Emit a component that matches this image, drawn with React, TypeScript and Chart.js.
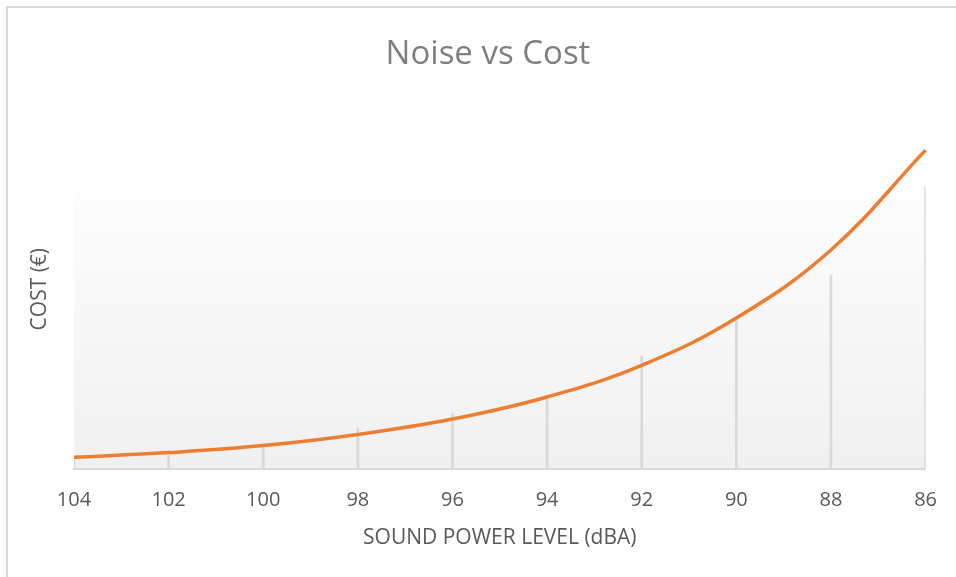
import React, { useEffect, useRef } from "react";
import { Chart, registerables } from "chart.js";

Chart.register(...registerables);

const soundLevels: string[] = ["104", "102", "100", "98", "96", "94", "92", "90", "88", "86"];
const costCurve: number[] = [3.7, 5.2, 7.4, 10.9, 15.8, 22.8, 32.8, 47.8, 69.3, 100.9];
const costBars: number[] = [3.8, 4.4, 7.0, 13.0, 17.7, 22.2, 35.8, 47.2, 61.4, 89.2];

const FONT = "'Open Sans', 'Liberation Sans', sans-serif";

const plotGradient = {
  id: "plotGradient",
  beforeDraw(chart: any) {
    const { ctx, chartArea } = chart;
    if (!chartArea) return;
    const g = ctx.createLinearGradient(0, chartArea.top, 0, chartArea.bottom);
    g.addColorStop(0, "#ffffff");
    g.addColorStop(1, "#f0f0f0");
    ctx.save();
    ctx.fillStyle = g;
    ctx.fillRect(chartArea.left, chartArea.top, chartArea.right - chartArea.left, chartArea.bottom - chartArea.top);
    ctx.restore();
  },
};

export default function App() {
  const ref = useRef<HTMLCanvasElement | null>(null);
  useEffect(() => {
    if (!ref.current) return;
    const chart = new Chart(ref.current, {
      type: "bar",
      data: {
        labels: soundLevels,
        datasets: [
          {
            type: "line",
            label: "Cost",
            data: costCurve,
            borderColor: "#ed7d31",
            backgroundColor: "#ed7d31",
            borderWidth: 3.5,
            pointRadius: 0,
            tension: 0.4,
            clip: false,
            order: 0,
          } as any,
          {
            type: "bar",
            label: "Cost bars",
            data: costBars,
            backgroundColor: "#d9d9d9",
            barThickness: 2,
            order: 1,
          } as any,
        ],
      },
      options: {
        animation: false,
        responsive: true,
        maintainAspectRatio: false,
        layout: { padding: { left: 50, right: 30, top: 0, bottom: 23 } },
        plugins: {
          legend: { display: false },
          tooltip: { enabled: false },
          title: {
            display: true,
            text: "Noise vs Cost",
            color: "#7f7f7f",
            font: { family: FONT, size: 33, weight: "normal", lineHeight: 1.2 },
            padding: { top: 35, bottom: 78.4 },
          },
        },
        scales: {
          x: {
            type: "category",
            offset: false,
            grid: { display: false, drawTicks: false },
            border: { display: true, color: "#d9d9d9", width: 2 },
            ticks: {
              color: "#595959",
              padding: 19,
              maxRotation: 0,
              autoSkip: false,
              font: { family: FONT, size: 20, lineHeight: 1.2 },
            },
            title: {
              display: true,
              text: "SOUND POWER LEVEL (dBA)",
              color: "#595959",
              font: { family: FONT, size: 21, lineHeight: 1.2 },
              padding: { top: -5.6, bottom: 3.4 },
            },
          },
          y: {
            min: 0,
            max: 100,
            grid: { display: false, drawTicks: false },
            border: { display: false },
            ticks: { display: false },
            title: {
              display: true,
              text: "        COST (€)",
              color: "#595959",
              font: { family: FONT, size: 21, lineHeight: 1.2 },
              padding: { top: -22.6, bottom: 21.4 },
            },
          },
        },
      },
      plugins: [plotGradient],
    });
    return () => chart.destroy();
  }, []);

  return (
    <div style={{ position: "fixed", left: 0, top: 0, width: 956, height: 577, background: "#ffffff", overflow: "hidden" }}>
      <div
        style={{
          position: "absolute",
          left: 6,
          top: 6,
          width: 1000,
          height: 620,
          border: "2px solid #d9d9d9",
          boxSizing: "border-box",
        }}
      />
      <div style={{ position: "absolute", left: 0, top: 0, width: 956, height: 577 }}>
        <canvas ref={ref} />
      </div>
    </div>
  );
}
